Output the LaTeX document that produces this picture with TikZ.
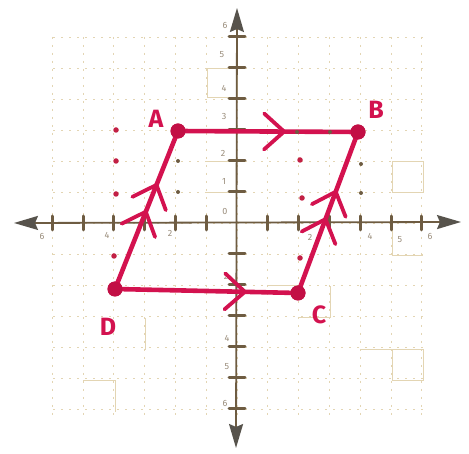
\documentclass[tikz,border=0pt]{standalone}
\usepackage{fontspec}
\setsansfont{Fira Sans}
\usetikzlibrary{arrows.meta,decorations.markings,calc}
\definecolor{pen}{HTML}{D3124F}
\definecolor{pendot}{HTML}{C20F45}
\definecolor{axisc}{HTML}{6E5C42}
\definecolor{headc}{HTML}{57534C}
\definecolor{gridc}{HTML}{E3D5B3}
\tikzset{
  barb/.tip={Straight Barb[length=20pt,width=36pt,line width=3.8pt,round]},
  edge/.style={draw=pen,line width=4.6pt,line cap=round,line join=round},
  chevat/.style={postaction={decorate,decoration={markings,
      mark=at position #1 with {\arrow[pen]{barb}}}}},
  vdot/.style={circle,fill=pendot,minimum size=15pt,inner sep=0pt},
  vlabel/.style={text=pen,font=\sffamily\bfseries\fontsize{25}{25}\selectfont,inner sep=0pt},
  num/.style={text=axisc!70,font=\sffamily\fontsize{9}{9}\selectfont,inner sep=0pt},
  gridline/.style={draw=gridc,line width=0.8pt,dash pattern=on 2pt off 6pt},
  gridbox/.style={draw=gridc,line width=1pt},
  axisline/.style={draw=axisc,line width=1.8pt},
  axtip/.tip={Stealth[length=24pt,width=14pt,inset=3pt,color=headc]},
  tickmark/.style={draw=axisc,line width=3pt,line cap=round},
  rdot/.style={circle,fill=pendot!85!brown,minimum size=5.5pt,inner sep=0pt},
  bdot/.style={circle,fill=axisc,minimum size=4pt,inner sep=0pt}
}
\begin{document}
\begin{tikzpicture}[x=1pt,y=-1pt]
\useasboundingbox (0,0) rectangle (469,454);
\fill[white] (0,0) rectangle (469,454);
% faint grid
\foreach \i in {-6,...,6}{
  \draw[gridline] ({237+30.8*\i},37) -- ({237+30.8*\i},420);
  \draw[gridline] (53,{223-31*\i}) -- (423,{223-31*\i});
}
% a few solid grid pieces
\draw[gridbox] (207,69) rectangle (237,98);
\draw[gridbox] (392,162) rectangle (423,193);
\draw[gridbox] (392,223) -- (392,256) -- (423,256);
\draw[gridbox] (361,350) -- (423,350) -- (423,381) -- (392,381) -- (392,350);
\draw[gridbox] (83,381) -- (115,381) -- (115,412);
\draw[gridbox] (207,162) -- (237,162);
\draw[gridbox] (207,193) -- (237,193);
\draw[gridbox] (268,286) -- (299,286);
\draw[gridbox] (145,318) -- (145,350);
\draw[gridbox] (299,318) -- (330,318) -- (330,286);
% axes
\coordinate (xl) at (14,223);
\coordinate (xr) at (461,222);
\coordinate (yt) at (237,8);
\coordinate (yb) at (236,448);
\draw[axisline,{axtip}-{axtip}] (xl) -- (xr);
\draw[axisline,{axtip}-{axtip}] (yt) -- (yb);
\foreach \i in {-6,-5,-4,-3,-2,-1,1,2,3,4,5,6}{
  \draw[tickmark] ({237+30.8*\i},216) -- ({237+30.8*\i},230);
  \draw[tickmark] (229,{223-31*\i}) -- (245,{223-31*\i});
}
% axis numbers
\node[num] (y6) at (225,26) {6};
\node[num] (y5) at (222,55) {5};
\node[num] (y4) at (224,88) {4};
\node[num] (y3) at (224,117) {3};
\node[num] (y2) at (223,153) {2};
\node[num] (y1) at (224,181) {1};
\node[num] (y0) at (225,212) {0};
\node[num] (ym2) at (226,276) {2};
\node[num] (ym4) at (227,338) {4};
\node[num] (ym5) at (227,367) {5};
\node[num] (ym6) at (225,403) {6};
\node[num] (xm6) at (42,237) {6};
\node[num] (xm4) at (107,235) {4};
\node[num] (xm2) at (170,233) {2};
\node[num] (x2) at (310,237) {2};
\node[num] (x4) at (370,236) {4};
\node[num] (x5) at (400,240) {5};
\node[num] (x6) at (430,237) {6};
% small dots
\foreach \p in {(116,130),(116,161),(116,194),(114,256),(300,160),(302,198),(300,258)}
  \node[rdot] at \p {};
\foreach \p in {(178,161),(178,192),(361,164),(361,193)}
  \node[bdot] at \p {};
% parallelogram
\node[vdot] (A) at (178,131) {};
\node[vdot] (B) at (358,132) {};
\node[vdot] (C) at (298,293) {};
\node[vdot] (D) at (115,289) {};
\path[edge,chevat=0.6] (A.center) -- (B.center);
\path[edge,chevat=0.72] (D.center) -- (C.center);
\path[edge,chevat=0.5,chevat=0.67] (D.center) -- (A.center);
\path[edge,chevat=0.47,chevat=0.64] (C.center) -- (B.center);
\node[vdot] at (A) {};
\node[vdot] at (B) {};
\node[vdot] at (C) {};
\node[vdot] at (D) {};
\foreach \p in {(297,132),(330,132)}
  \node[bdot] at \p {};
% labels
\node[vlabel] (lA) at (156,119) {A};
\node[vlabel] (lB) at (376,110) {B};
\node[vlabel] (lC) at (319,315) {C};
\node[vlabel] (lD) at (108,327) {D};
\end{tikzpicture}
\end{document}
